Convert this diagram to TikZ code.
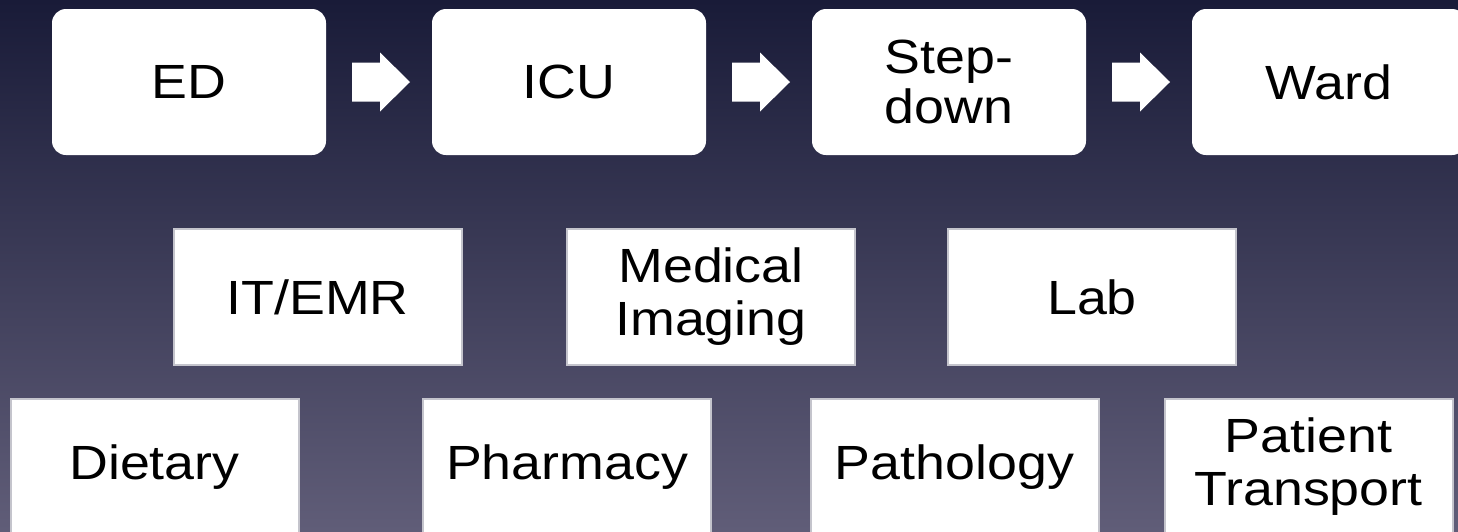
\documentclass[tikz,border=0pt]{standalone}
\usepackage{fontspec}
\usetikzlibrary{calc}
\newfontfamily\labelfont[FakeStretch=1.12]{Liberation Sans}
\definecolor{bgtop}{RGB}{25,27,56}
\definecolor{bgbottom}{RGB}{96,93,120}
\definecolor{boxedge}{RGB}{196,196,204}
\tikzset{
  stagebox/.style={fill=white, rounded corners=14pt, minimum width=274pt, minimum height=146pt,
    inner sep=0pt, align=center, font=\labelfont\fontsize{48}{50}\selectfont},
  servicebox/.style={fill=white, draw=boxedge, line width=2pt, minimum width=288pt, minimum height=136pt,
    inner sep=0pt, align=center, font=\labelfont\fontsize{48}{53}\selectfont},
  arrowfill/.style={fill=white}
}
% block arrow centred on a coordinate, pointing right
\newcommand\blockarrow[1]{%
  \fill[arrowfill] ($(#1)+(-29,-19.5)$) -- ($(#1)+(-1,-19.5)$) -- ($(#1)+(-1,-29.5)$)
    -- ($(#1)+(29,0)$) -- ($(#1)+(-1,29.5)$) -- ($(#1)+(-1,19.5)$) -- ($(#1)+(-29,19.5)$) -- cycle;}
\begin{document}
\begin{tikzpicture}[x=1pt, y=-1pt]
  \useasboundingbox (0,0) rectangle (1458,531);
  \clip (0,0) rectangle (1458,531);
  \shade[top color=bgtop, bottom color=bgbottom] (0,0) rectangle (1458,531);

  % patient flow
  \node[stagebox] (ed)   at (189,82)  {ED};
  \node[stagebox] (icu)  at (569,82)  {ICU};
  \node[stagebox] (step) at (949,82)  {Step-\\down};
  \node[stagebox] (ward) at (1329,82) {Ward};

  \coordinate (a1) at ($(ed.east)!0.5!(icu.west)+(2,0)$);
  \coordinate (a2) at ($(icu.east)!0.5!(step.west)+(2,0)$);
  \coordinate (a3) at ($(step.east)!0.5!(ward.west)+(2,0)$);
  \blockarrow{a1}
  \blockarrow{a2}
  \blockarrow{a3}

  % support services
  \node[servicebox] (it)  at (317.5,297) {IT/EMR};
  \node[servicebox] (img) at (711,297)   {Medical\\Imaging};
  \node[servicebox] (lab) at (1092,297)  {Lab};

  \node[servicebox] (diet)  at (154.5,467) {Dietary};
  \node[servicebox] (pharm) at (567,467)   {Pharmacy};
  \node[servicebox] (path)  at (954.5,467) {Pathology};
  \node[servicebox] (trans) at (1308.5,467) {Patient\\Transport};
\end{tikzpicture}
\end{document}
